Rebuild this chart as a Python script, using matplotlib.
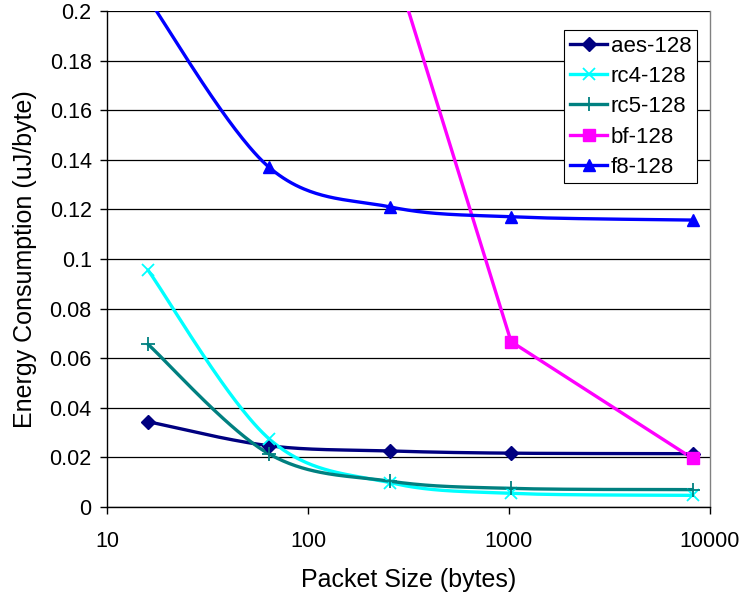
import numpy as np
import matplotlib
matplotlib.use("Agg")
import matplotlib.pyplot as plt
from matplotlib.ticker import FixedLocator, FixedFormatter

plt.rcParams['font.family'] = ['Liberation Sans', 'DejaVu Sans']

packet_sizes = [16, 64, 256, 1024, 8192]
aes_128 = [0.0344, 0.0247, 0.0226, 0.0217, 0.0215]
rc4_128 = [0.0955, 0.0275, 0.0098, 0.0055, 0.0047]
rc5_128 = [0.0656, 0.0214, 0.0104, 0.0075, 0.0070]
bf_128 = [1.10, 0.55, 0.224, 0.0667, 0.0196]
f8_128 = [0.205, 0.137, 0.121, 0.117, 0.1157]

y_ticks = [0, 0.02, 0.04, 0.06, 0.08, 0.1, 0.12, 0.14, 0.16, 0.18, 0.2]
y_tick_labels = ["0", "0.02", "0.04", "0.06", "0.08", "0.1", "0.12", "0.14", "0.16", "0.18", "0.2"]
x_ticks = [10, 100, 1000, 10000]
x_tick_labels = ["10", "100", "1000", "10000"]

Y_MAX = 0.2


def smooth(xs, ys, n=60):
    """Catmull-Rom style Bezier smoothing in log10(x) space."""
    lx = np.log10(np.asarray(xs, float))
    y = np.asarray(ys, float)
    pts = np.column_stack([lx, y])
    ext = np.vstack([pts[0], pts, pts[-1]])
    out = []
    t = np.linspace(0, 1, n)[:, None]
    for i in range(len(pts) - 1):
        p0, p1, p2, p3 = ext[i], ext[i + 1], ext[i + 2], ext[i + 3]
        c1 = p1 + (p2 - p0) / 6.0
        c2 = p2 - (p3 - p1) / 6.0
        seg = ((1 - t) ** 3) * p1 + 3 * ((1 - t) ** 2) * t * c1 + 3 * (1 - t) * t ** 2 * c2 + t ** 3 * p2
        out.append(seg if i == 0 else seg[1:])
    out = np.vstack(out)
    return 10 ** out[:, 0], out[:, 1]


fig = plt.figure(figsize=(7.44, 5.96), dpi=100)
ax = fig.add_axes([107 / 744, 1 - 507 / 596, (710 - 107) / 744, (507 - 11) / 596])

series = [
    ("aes-128", aes_128, "#000080", "D", 7, True),
    ("rc4-128", rc4_128, "#00FFFF", "x", 9, True),
    ("rc5-128", rc5_128, "#008080", "+", 10, True),
    ("bf-128", bf_128, "#FF00FF", "s", 8, False),
    ("f8-128", f8_128, "#0000FF", "^", 9, True),
]

lw = 2.4
for name, vals, col, mk, ms, smoothed in series:
    if smoothed:
        sx, sy = smooth(packet_sizes, vals)
    else:
        sx, sy = packet_sizes, vals
    mew = 1.3 if mk in ('x', '+') else 1
    ax.plot(sx, sy, color=col, lw=lw, solid_capstyle='round', zorder=3)
    # markers are only drawn for points inside the value range
    mx = [x for x, v in zip(packet_sizes, vals) if v <= Y_MAX]
    my = [v for v in vals if v <= Y_MAX]
    ax.plot(mx, my, linestyle='none', marker=mk, color=col, ms=ms, mew=mew, zorder=4)
    ax.plot([], [], color=col, lw=lw, marker=mk, ms=ms, mew=mew, label=name)

ax.set_xscale('log')
ax.set_xlim(10, 10000)
ax.set_ylim(0, Y_MAX)
ax.xaxis.set_major_locator(FixedLocator(x_ticks))
ax.xaxis.set_major_formatter(FixedFormatter(x_tick_labels))
ax.xaxis.set_minor_locator(FixedLocator([]))
ax.yaxis.set_major_locator(FixedLocator(y_ticks))
ax.yaxis.set_major_formatter(FixedFormatter(y_tick_labels))

ax.grid(axis='y', color='#000000', lw=0.9, zorder=1)
ax.set_axisbelow(True)
ax.spines['top'].set_visible(False)
ax.spines['right'].set_color('#808080')
ax.spines['left'].set_color('#000000')
ax.spines['bottom'].set_color('#000000')
for s in ax.spines.values():
    s.set_linewidth(1.0)

ax.tick_params(axis='both', direction='out', length=5, width=1, labelsize=15.5, color='#000000')
ax.tick_params(axis='x', pad=12)
ax.tick_params(axis='y', pad=6)

ax.set_xlabel("Packet Size (bytes)", fontsize=18, labelpad=12)
ax.set_ylabel("Energy Consumption (uJ/byte)", fontsize=18, labelpad=9)

leg = ax.legend(loc='upper right', bbox_to_anchor=((697 - 107) / 603, (507 - 30) / 496),
                fontsize=16, frameon=True, fancybox=False, framealpha=1,
                edgecolor='#000000', borderpad=0.25, labelspacing=0.42,
                handlelength=1.7, handletextpad=0.15, borderaxespad=0)
leg.get_frame().set_linewidth(0.8)

fig.savefig("out.png", dpi=100)
